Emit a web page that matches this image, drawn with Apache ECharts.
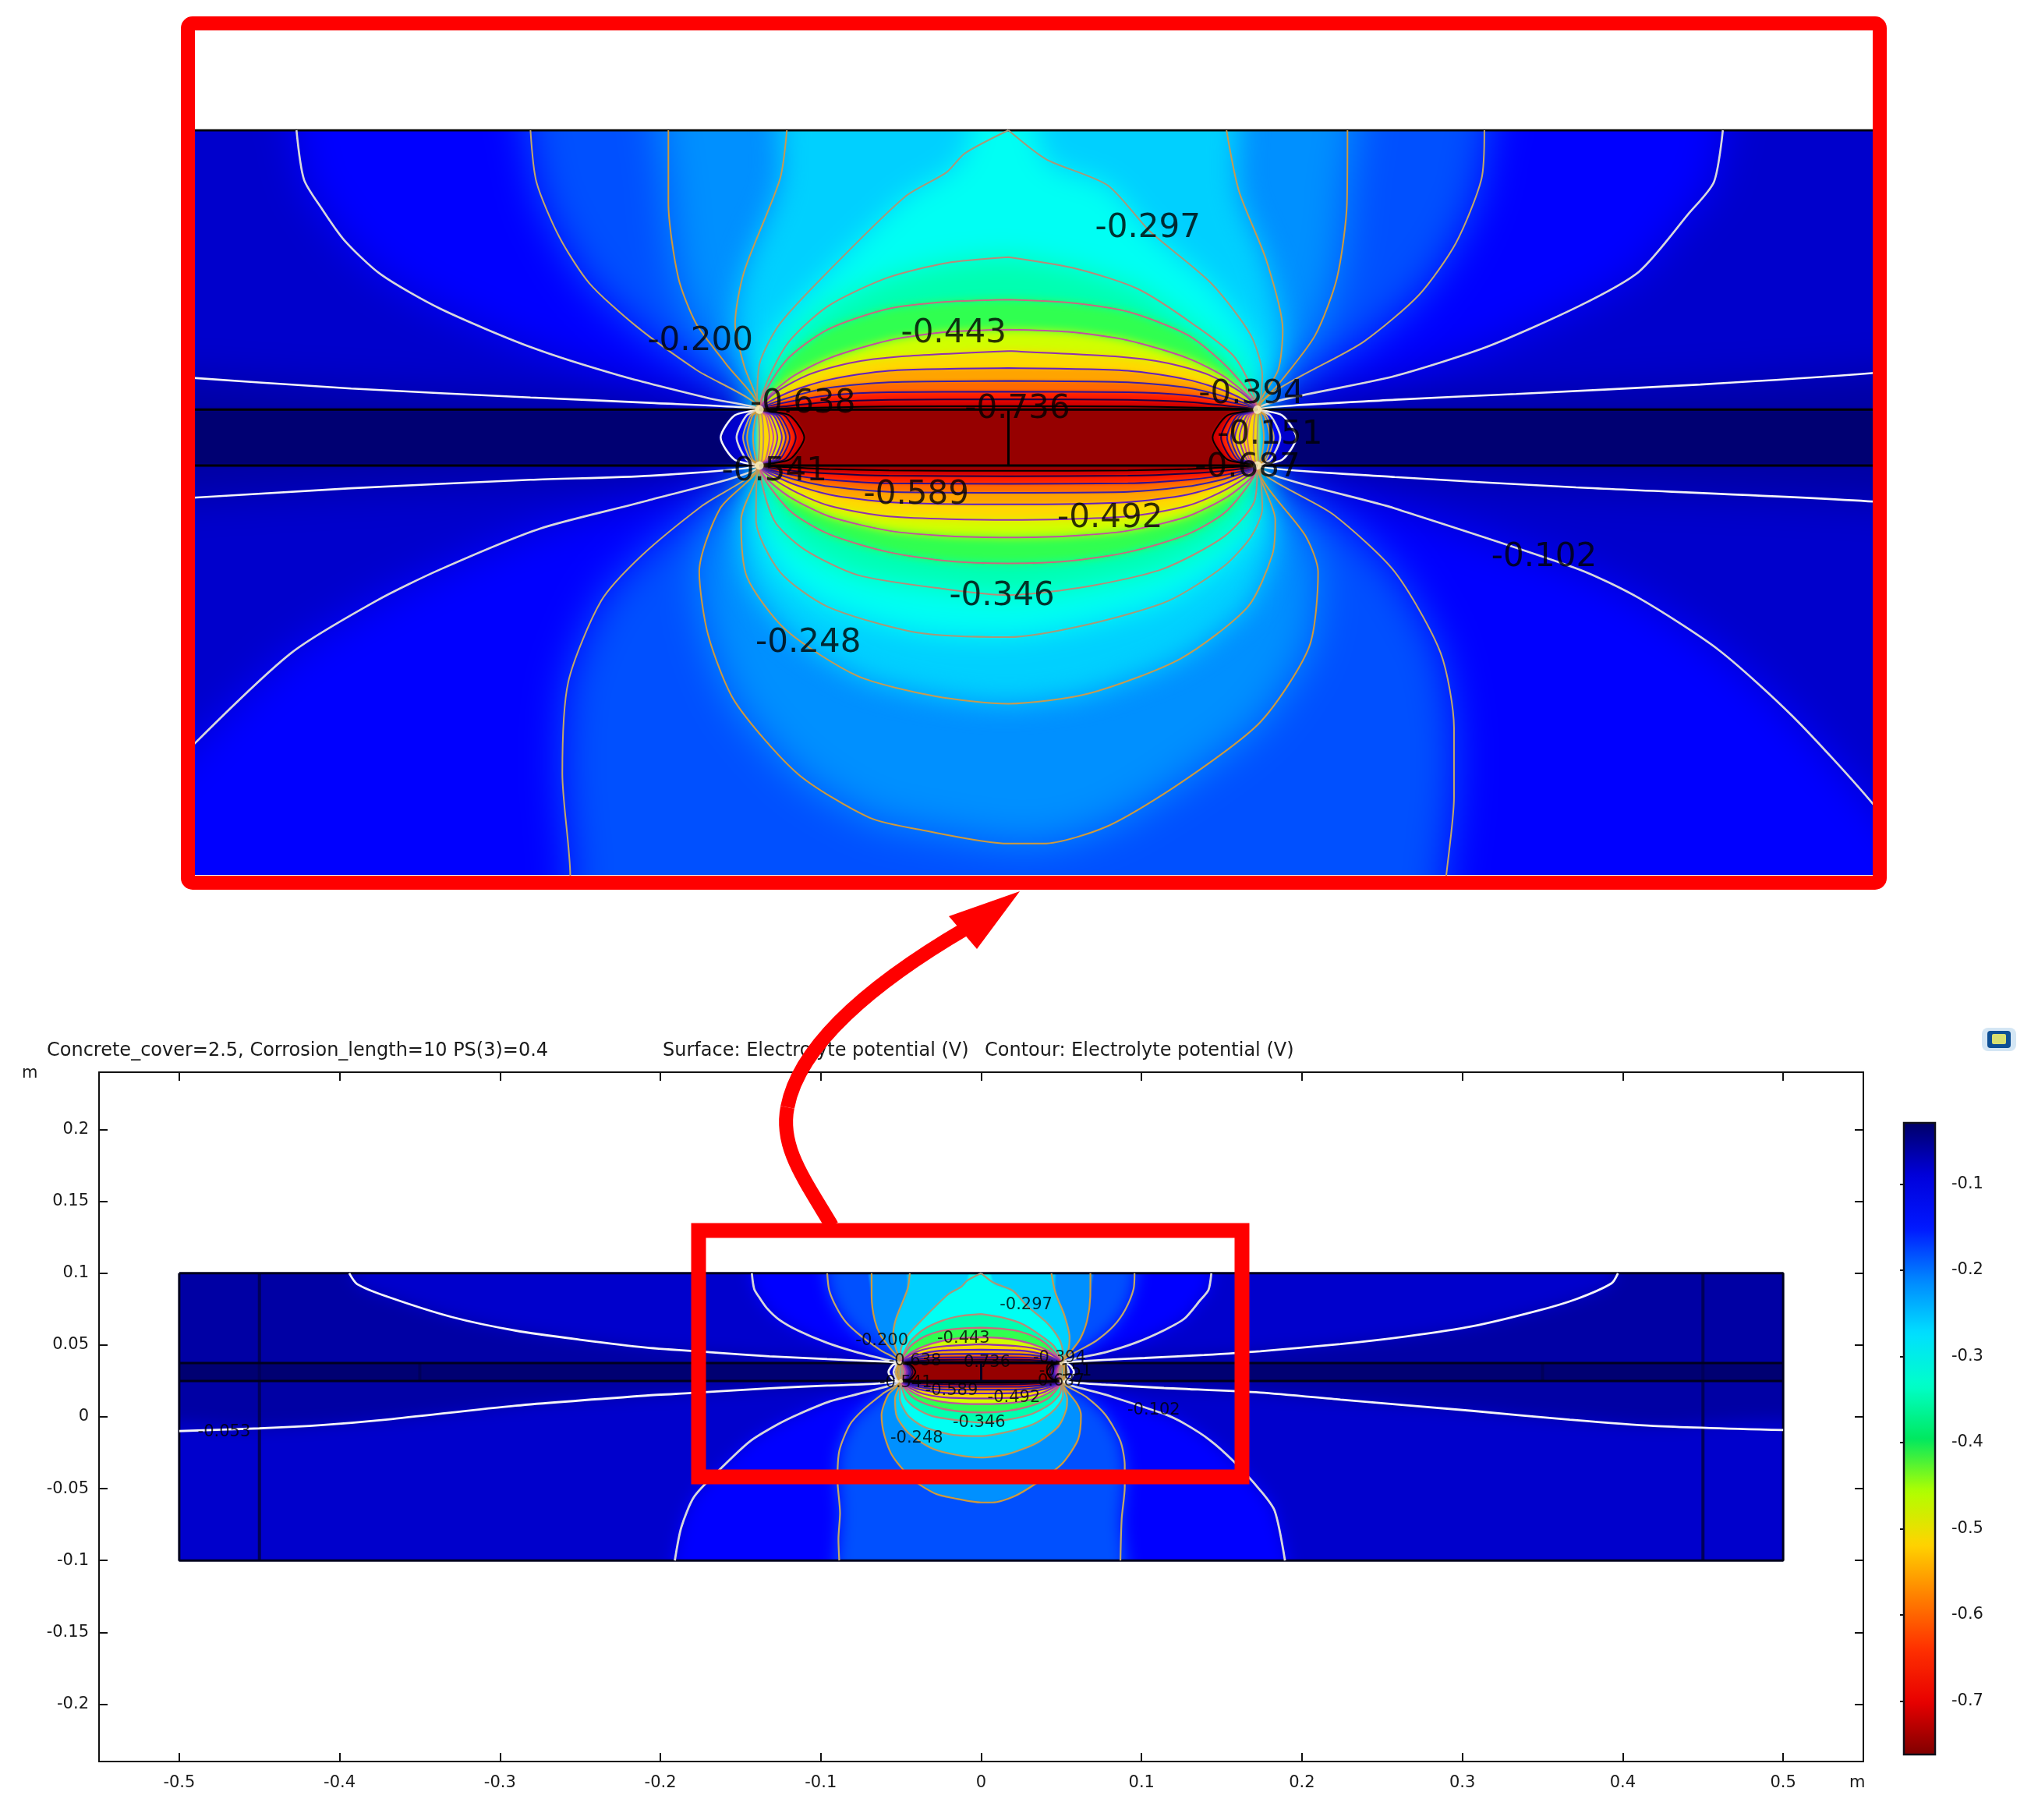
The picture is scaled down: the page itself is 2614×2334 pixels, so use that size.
<!DOCTYPE html>
<html><head><meta charset="utf-8">
<style>
html,body{margin:0;padding:0;background:#fff}
#c{width:2614px;height:2334px}
canvas[data-zr-dom-id="zr_1"]{filter:blur(26px);clip-path:inset(167px 212px 1212px 250px)}
canvas[data-zr-dom-id="zr_2"]{filter:blur(17px);clip-path:inset(167px 212px 1212px 250px)}
canvas[data-zr-dom-id="zr_3"]{filter:blur(6px);clip-path:inset(167px 212px 1212px 250px)}
canvas[data-zr-dom-id="zr_4"]{filter:blur(2px);clip-path:inset(167px 212px 1212px 250px)}
canvas[data-zr-dom-id="zr_5"]{filter:blur(10px);clip-path:inset(1632px 327px 332px 230px)}
canvas[data-zr-dom-id="zr_6"]{filter:blur(1.2px);clip-path:inset(1632px 327px 332px 230px)}
</style>
<script src="https://cdn.jsdelivr.net/npm/echarts@6/dist/echarts.min.js"></script>
</head><body><div id="c"></div>
<script>
// ---- Data (millimetres, electrolyte potential in volts) ----
const contourLevels=[-0.053,-0.102,-0.151,-0.200,-0.248,-0.297,-0.346,-0.394,-0.443,-0.492,-0.541,-0.589,-0.638,-0.687,-0.736];
const bandColors=['#0000cc','#0000ff','#0050ff','#0090ff','#00d0ff','#00fff4','#00ffb0','#30ff50','#d0ff00','#ffd800','#ffa400','#ff6a00','#ff1e00','#d80000','#960000'];
const lineColors=['#f4f4f8','#d8d8dc','#c4a868','#d09a3a','#c89a50','#a89878','#b88a78','#c86a80','#c050a0','#9030b0','#6020c0','#3a20a8','#301090','#200040','#000000'];
const c053=[[-394,100],[-389,92.4],[-370,83.6],[-330,69.5],[-290,60],[-249,53.6],[-209,48.3],[-169,45],[-132,42.2],[-96,40.2],[-72,39],[-50,37.5],[-55,36.2],[-57.8,31.25],[-55,26.3],[-50,25],[-72,22.7],[-96,21.8],[-132,19.9],[-181,16.6],[-209,14.8],[-290,7.8],[-370,-1.8],[-410,-5.6],[-450,-8],[-500,-9.9],[-500,-100],[500,-100],[500,-9.2],[419,-6.3],[367,-2],[306,4.2],[224,12],[174,16.9],[114,20.1],[77.6,22.4],[50,25],[55,26.3],[57.8,31.25],[55,36.2],[50,37.5],[77.6,39.7],[102,41],[139,43.1],[174,45.7],[224,50.7],[265,56],[306,63],[346,73.6],[371,82],[393,93],[397,100]];
const c102=[[-143,100],[-141.5,89],[-138,82.6],[-133.4,75.4],[-126,67.7],[-114,60],[-96,51.5],[-78,45.1],[-60,40],[-50,37.5],[-52.6,36.2],[-54.6,31.25],[-52.6,26.3],[-50,25],[-72,17.3],[-94,10.9],[-114,1.8],[-127,-5.3],[-144,-16.9],[-163,-36.7],[-179,-55.7],[-187,-77],[-191,-100],[189.4,-100],[183,-65.5],[174,-51.2],[157.5,-31.1],[142.7,-16.3],[126.7,-4.7],[114.5,1.8],[77.6,15.4],[50,25],[52.6,26.3],[54.6,31.25],[52.6,36.2],[50,37.5],[77.6,45],[96,51.5],[114.5,60.6],[126.7,68.4],[136.6,81.3],[141.7,88.4],[143.5,100]];
const c151=[[-96,100],[-94.8,88.4],[-90.2,76.1],[-84.2,65.8],[-74.7,56.1],[-62.7,46.4],[-50,37.5],[-51.8,36.2],[-53.3,31.25],[-51.8,26.3],[-50,25],[-61.5,16],[-73.5,5],[-81.8,-5.3],[-88.4,-23.4],[-89.6,-44],[-88,-67],[-89,-85],[-88.5,-100],[86.8,-100],[87.6,-70.8],[89.5,-49.2],[89.5,-33.7],[86.8,-16.9],[77.6,1.2],[65.3,14],[50,25],[51.8,26.3],[53.3,31.25],[51.8,36.2],[50,37.5],[71.5,52.8],[82.5,63.2],[89.9,74.8],[95,89],[95.6,100]];
const c200=[[-68.3,100],[-68.3,83.8],[-66.3,67],[-62.7,56.7],[-56.7,47.7],[-50,37.5],[-51.4,36.2],[-52.5,31.25],[-51.4,26.3],[-50,25],[-57.9,15.4],[-62.1,1.2],[-60.3,-13],[-54.9,-27.9],[-42.3,-44],[-27.9,-53.8],[-17.2,-56.6],[0,-59.6],[7,-59.6],[19.9,-55.7],[34.6,-46],[50.6,-32.4],[60.4,-15.6],[62.2,1.2],[59.8,9],[50,25],[51.4,26.3],[52.5,31.25],[51.4,36.2],[50,37.5],[54.2,43.1],[61.6,54.1],[66,67],[68,83.8],[68.1,100]];
const c248=[[-44.5,100],[-45.9,89],[-53.1,68.3],[-54.9,56.7],[-53,47],[-50,37.5],[-50.7,36.2],[-51.3,31.25],[-50.7,26.3],[-50,25],[-53.7,12.8],[-52.5,0],[-44.7,-11.8],[-30.3,-22.1],[-14.8,-26.6],[0,-28.3],[16.2,-26],[34.6,-18.2],[48.1,-6.6],[53,5],[53.6,12.8],[50,25],[50.7,26.3],[51.3,31.25],[50.7,36.2],[50,37.5],[54.2,46.4],[55.1,55.4],[51.8,70.9],[46.3,86.4],[43.8,100]];
const c297=[[0,100],[-8.8,94.8],[-12.4,90.6],[-20.8,85.1],[-36.3,68.3],[-45.9,56.7],[-50,47.7],[-50.5,37.5],[-50.2,36.2],[-50,31.25],[-50.2,26.3],[-50.5,25],[-50.7,12.8],[-45.9,1.2],[-36.3,-6.6],[-18.3,-12.4],[0,-13.4],[16.2,-10.5],[32.1,-5.3],[43.2,2.4],[48.7,9],[51,15.4],[50.5,25],[50.2,26.3],[50,31.25],[50.2,36.2],[50.5,37.5],[51,45.1],[48.7,54.1],[40.7,65.8],[28.4,77.4],[19.9,87.7],[7.6,93.5]];
const c346=[[0,71.6],[-12.4,70.3],[-24.3,67],[-36.3,60.6],[-44.8,51.6],[-50,37.5],[-49.5,36.2],[-49.2,31.25],[-49.5,26.3],[-50,25],[-47.1,12.8],[-41.1,6.3],[-30.3,.5],[-12.4,-2.7],[0,-4],[16.2,-2],[30.9,1.8],[43.2,9],[49.3,16.7],[50,25],[49.5,26.3],[49.2,31.25],[49.5,36.2],[50,37.5],[45.6,49],[37,56.7],[26,64.5],[13.7,69]];
const c394=[[0,62.1],[-12.4,61.6],[-24.3,60],[-36.3,55.4],[-44.8,48.3],[-50,37.5],[-48.8,36.2],[-48,31.25],[-48.8,26.3],[-50,25],[-44,15],[-36,9.6],[-24,5.6],[-12,3.6],[0,3.1],[12,3.6],[24,5.6],[36,9.6],[44,15],[50,25],[48.8,26.3],[48,31.25],[48.8,36.2],[50,37.5],[44.8,46],[36.3,54],[24.3,59.3],[12.4,61.4]];
const c443=[[0,55.4],[-12,54.9],[-24,53],[-36,49],[-44,44.4],[-50,37.5],[-48.4,36.2],[-47.2,31.25],[-48.4,26.3],[-50,25],[-49,22.5],[-44,18],[-36,13.6],[-24,10.4],[-12,9.2],[0,8.9],[12,9.2],[24,10.4],[36,13.6],[44,18],[49,22.5],[50,25],[48.4,26.3],[47.2,31.25],[48.4,36.2],[50,37.5],[44,44.4],[36,49],[24,53],[12,54.9]];
const c492=[[0,50.6],[-21.4,49.4],[-32,47.9],[-40.2,45.3],[-46.8,41.3],[-50,37.5],[-47.9,36.2],[-46.4,31.25],[-47.9,26.3],[-50,25],[-44,19.8],[-36,16],[-24,13.6],[0,12.8],[24,13.6],[36,16],[44,19.8],[50,25],[47.9,26.3],[46.4,31.25],[47.9,36.2],[50,37.5],[46.8,41.3],[40.2,45.3],[32,47.9],[21.4,49.4]];
const c541=[[0,46.8],[-24,46.2],[-36,44.2],[-44.3,41.3],[-50,37.5],[-47.2,36.2],[-45.5,31.25],[-47.2,26.3],[-50,25],[-44,21.2],[-36,18.5],[-24,16.8],[0,16.3],[24,16.8],[36,18.5],[44,21.2],[50,25],[47.2,26.3],[45.5,31.25],[47.2,36.2],[50,37.5],[44.3,41.3],[36,44.2],[24,46.2]];
const c589=[[0,43.9],[-24,43.6],[-36,42.4],[-44.3,40.1],[-50,37.5],[-46.6,36.2],[-44.7,31.25],[-46.6,26.3],[-50,25],[-44,22.2],[-36,20.3],[-24,19.1],[0,18.9],[24,19.1],[36,20.3],[44,22.2],[50,25],[46.6,26.3],[44.7,31.25],[46.6,36.2],[50,37.5],[44.3,40.1],[36,42.4],[24,43.6]];
const c638=[[0,41.5],[-24,41.4],[-36,40.7],[-44.3,39.2],[-50,37.5],[-46,36.2],[-43.9,31.25],[-46,26.3],[-50,25],[-44,23],[-36,21.8],[-24,21],[0,20.9],[24,21],[36,21.8],[44,23],[50,25],[46,26.3],[43.9,31.25],[46,36.2],[50,37.5],[44.3,39.2],[36,40.7],[24,41.4]];
const c687=[[0,39.8],[-24,39.7],[-36,39.2],[-44.3,38.3],[-50,37.5],[-45,36.2],[-42.7,31.25],[-45,26.3],[-50,25],[-44,23.9],[-36,23.2],[-24,22.7],[0,22.6],[24,22.7],[36,23.2],[44,23.9],[50,25],[45,26.3],[42.7,31.25],[45,36.2],[50,37.5],[44.3,38.3],[36,39.2],[24,39.7]];
const c736=[[0,38.3],[-24,38.2],[-36,38],[-44.3,37.8],[-50,37.5],[-44,36.2],[-41,31.25],[-44,26.3],[-50,25],[-44,24.6],[-36,24.2],[-24,23.9],[0,23.8],[24,23.9],[36,24.2],[44,24.6],[50,25],[44,26.3],[41,31.25],[44,36.2],[50,37.5],[44.3,37.8],[36,38],[24,38.2]];
const domainRing=[[-500,100],[500,100],[500,-100],[-500,-100]];
const barLeft=[[-500,37.5],[-50,37.5],[-50,25],[-500,25]];
const barRight=[[50,37.5],[500,37.5],[500,25],[50,25]];
const singularPoints=[[-50,37.5],[50,37.5],[-50,25],[50,25]];
const labelTexts=['-0.297','-0.443','-0.200','-0.638','-0.736','-0.394','-0.151','-0.541','-0.589','-0.687','-0.492','-0.346','-0.248','-0.102'];
const labelX=[28,-11,-61.9,-41.3,1.8,48.8,52.5,-47,-18.5,48,20.4,-1.3,-40.2,107.6];
const labelY=[78.5,54.9,53.2,39.2,38.1,41.3,32.3,24.1,18.9,25,13.7,-3.8,-14.2,4.9];
const farLabel={text:'-0.053',x:-472,y:-10};
const xTicks=[-500,-400,-300,-200,-100,0,100,200,300,400,500];
const yTicks=[-200,-150,-100,-50,0,50,100,150,200];
const barTicks=[-0.7,-0.6,-0.5,-0.4,-0.3,-0.2,-0.1];
const rainbow=['#800000','#e80000','#ff3000','#ff8000','#ffd400','#b0ff00','#00e860','#00ffc8','#00e0ff','#0088ff','#0018ff','#0000dc','#000068'];
const barMin=-0.762,barMax=-0.029;

const rings=[c053,c102,c151,c200,c248,c297,c346,c394,c443,c492,c541,c589,c638,c687,c736];
function ext(p){ // push boundary points outward so the blurred fill stays solid up to the edge
  let [x,y]=p;
  if(y===100)y=130; if(y===-100)y=-130; if(x===500)x=530; if(x===-500)x=-530;
  return [x,y];
}
const domainFill={r:domainRing,c:'#0000a4',s:0};
const barFills=[{r:barLeft,c:'#000072',s:0},{r:barRight,c:'#000072',s:0}];
const ringFills=rings.map((r,i)=>({r,c:bandColors[i],s:0.25}));
const lobeFills=rings.slice(0,10).flatMap((r,i)=>{
  const mid=r.filter(p=>p[1]<=37.5&&p[1]>=25);
  return [{r:mid.filter(p=>p[0]<0),c:bandColors[i],s:0.25},{r:mid.filter(p=>p[0]>0),c:bandColors[i],s:0.25}];
});
function fillSeries(list,xi,yi,zl){
  return {type:'custom',coordinateSystem:'cartesian2d',xAxisIndex:xi,yAxisIndex:yi,zlevel:zl,silent:true,animation:false,
    data:list.map((_,i)=>[0,i]),
    renderItem:(p,api)=>{const f=list[p.dataIndex];return {type:'polygon',shape:{points:f.r.map(q=>api.coord(ext(q))),smooth:f.s},style:{fill:f.c}};}};
}
function onEdge(a,b){return (Math.abs(a[1])===100&&a[1]===b[1])||(Math.abs(a[0])===500&&a[0]===b[0]);}
function strokeData(r){
  const out=[];const n=r.length;
  for(let i=0;i<=n;i++){
    const p=r[i%n];
    if(i>0&&onEdge(r[i-1],p))out.push('-');
    out.push(p);
  }
  return out;
}
const TOP=7;
function lineSeries(xi,yi,w){
  return rings.map((r,i)=>({type:'line',xAxisIndex:xi,yAxisIndex:yi,zlevel:TOP,z:3,silent:true,animation:false,showSymbol:false,connectNulls:false,clip:true,smooth:0.25,
    data:strokeData(r),lineStyle:{color:lineColors[i],width:i<2?w+0.6:w}}));
}
function struct(xi,yi,data,color,w,z){
  return {type:'line',xAxisIndex:xi,yAxisIndex:yi,zlevel:TOP,z:z||2,silent:true,animation:false,showSymbol:false,connectNulls:false,clip:true,data,lineStyle:{color,width:w}};
}
function labelSeries(xi,yi,size,off,extra){
  const d=labelTexts.map((t,i)=>({name:t,value:[labelX[i],labelY[i]]})).concat(extra||[]);
  return {type:'scatter',xAxisIndex:xi,yAxisIndex:yi,zlevel:TOP,z:6,silent:true,animation:false,symbolSize:1,itemStyle:{color:'rgba(0,0,0,0)'},data:d,
    label:{show:true,position:'inside',offset:[0,off],formatter:'{b}',fontFamily:'DejaVu Sans',fontSize:size,color:'#000'}};
}
function spots(xi,yi,size){
  return {type:'scatter',xAxisIndex:xi,yAxisIndex:yi,zlevel:TOP,z:5,silent:true,animation:false,symbolSize:size,data:singularPoints,
    itemStyle:{color:'#fff6c0',shadowBlur:size,shadowColor:'#ffa000'}};
}
const insetStruct=[[-500,100],[500,100],'-',[-500,37.5],[500,37.5],'-',[-500,25],[500,25],'-',[0,25],[0,37.5]];
const mainStruct=[[-500,100],[500,100],[500,-100],[-500,-100],[-500,100],'-',[-500,37.5],[500,37.5],'-',[-500,25],[500,25],'-',[0,25],[0,37.5]];
const mainShade=[[-450,100],[-450,-100],'-',[450,100],[450,-100],'-',[-350,25],[-350,37.5],'-',[350,25],[350,37.5]];

const axisTxt={fontFamily:'DejaVu Sans',fontSize:21,color:'#1a1a1a'};
const tick=(vals)=>({show:true,inside:true,length:11,customValues:vals,lineStyle:{color:'#111',width:2}});
const line={show:true,onZero:false,lineStyle:{color:'#111',width:2}};
const hidden=(min,max,pos)=>({type:'value',min,max,show:false,position:pos});
const titleStyle={fontFamily:'DejaVu Sans',fontWeight:'normal',fontSize:24,color:'#1a1a1a'};
const option={
  animation:false,backgroundColor:'#fff',
  title:[
    {text:'Concrete_cover=2.5, Corrosion_length=10 PS(3)=0.4',left:60,top:1336,textStyle:titleStyle,padding:0},
    {text:'Surface: Electrolyte potential (V)',left:850,top:1336,textStyle:titleStyle,padding:0},
    {text:'Contour: Electrolyte potential (V)',left:1263,top:1336,textStyle:titleStyle,padding:0}
  ],
  grid:[
    {left:250,top:167,width:2152,height:955},
    {left:127,top:1375,width:2263,height:884},
    {left:2442,top:1440,width:40,height:810}
  ],
  xAxis:[
    hidden(-163.4,173.6,'bottom'),
    {gridIndex:1,type:'value',min:-550,max:550,position:'bottom',axisLine:line,axisTick:tick(xTicks),splitLine:{show:false},
      axisLabel:{...axisTxt,margin:17,customValues:xTicks,formatter:v=>String(v/1000)}},
    {gridIndex:1,type:'value',min:-550,max:550,position:'top',axisLine:line,axisTick:tick(xTicks),splitLine:{show:false},axisLabel:{show:false}},
    {gridIndex:2,type:'value',min:0,max:1,show:false}
  ],
  yAxis:[
    hidden(-66.6,100,'left'),
    {gridIndex:1,type:'value',min:-240,max:240,position:'left',axisLine:line,axisTick:tick(yTicks),splitLine:{show:false},
      axisLabel:{...axisTxt,margin:13,padding:[5,0,0,0],customValues:yTicks,formatter:v=>String(v/1000)}},
    {gridIndex:1,type:'value',min:-240,max:240,position:'right',axisLine:line,axisTick:tick(yTicks),splitLine:{show:false},axisLabel:{show:false}},
    {gridIndex:2,type:'value',min:barMin,max:barMax,position:'right',axisLine:{show:false},splitLine:{show:false},
      axisTick:{show:true,inside:true,length:5,customValues:barTicks,lineStyle:{color:'#111',width:2}},
      axisLabel:{...axisTxt,margin:21,padding:[5,0,0,0],customValues:barTicks,formatter:v=>v.toFixed(1)}}
  ],
  visualMap:[{type:'continuous',show:true,seriesIndex:[],min:barMin,max:barMax,calculable:false,left:2442,top:1440,itemWidth:40,itemHeight:810,padding:0,text:null,showLabel:false,inRange:{color:rainbow},textStyle:{fontSize:0}}],
  graphic:{elements:[
    {type:'rect',zlevel:TOP,z:20,shape:{x:241,y:30,width:2170,height:1102,r:6},style:{fill:'none',stroke:'#ff0000',lineWidth:18}},
    {type:'rect',zlevel:TOP,z:20,shape:{x:896,y:1578,width:697,height:316},style:{fill:'none',stroke:'#ff0000',lineWidth:19}},
    {type:'bezierCurve',zlevel:TOP,z:20,shape:{x1:1067,y1:1572,cpx1:1030,cpy1:1510,cpx2:1000,cpy2:1470,x2:1010,y2:1420},style:{fill:'none',stroke:'#ff0000',lineWidth:18}},
    {type:'bezierCurve',zlevel:TOP,z:20,shape:{x1:1010,y1:1420,cpx1:1025,cpy1:1340,cpx2:1120,cpy2:1260,x2:1240,y2:1190},style:{fill:'none',stroke:'#ff0000',lineWidth:18}},
    {type:'polygon',zlevel:TOP,z:20,shape:{points:[[1308,1143],[1217,1175],[1253,1217]]},style:{fill:'#ff0000'}},
    {type:'rect',zlevel:TOP,z:19,shape:{x:2442,y:1440,width:40,height:810},style:{fill:'none',stroke:'#10101a',lineWidth:2.5}},
    {type:'text',left:28,top:1366,style:{text:'m',font:'21px "DejaVu Sans"',fill:'#1a1a1a'}},
    {type:'text',left:2372,top:2276,style:{text:'m',font:'21px "DejaVu Sans"',fill:'#1a1a1a'}},
    {type:'rect',shape:{x:2542,y:1318,width:44,height:30,r:8},style:{fill:'#d4e6f4'}},
    {type:'rect',shape:{x:2549,y:1322,width:30,height:22,r:4},style:{fill:'#0d4f95'}},
    {type:'rect',shape:{x:2555,y:1326,width:18,height:13,r:2},style:{fill:'#d8e070'}}
  ]},
  series:[
    fillSeries([domainFill,...ringFills.slice(0,4)],0,0,1),
    fillSeries(ringFills.slice(4,7),0,0,2),
    fillSeries(ringFills.slice(7,10),0,0,3),
    fillSeries([...barFills,...lobeFills,...ringFills.slice(10)],0,0,4),
    fillSeries([domainFill,...ringFills.slice(0,3)],1,1,5),
    fillSeries([...barFills,...lobeFills,...ringFills.slice(3)],1,1,6),
    ...lineSeries(0,0,2),
    ...lineSeries(1,1,2.2),
    spots(0,0,11),
    spots(1,1,5),
    struct(0,0,insetStruct,'#000',3),
    struct(1,1,mainShade,'#00005a',4),
    struct(1,1,mainStruct,'#00001e',3),
    labelSeries(0,0,42,3),
    labelSeries(1,1,21,1,[{name:farLabel.text,value:[farLabel.x,farLabel.y]}])
  ]
};
const chart=echarts.init(document.getElementById('c'),null,{width:2614,height:2334,renderer:'canvas'});
chart.setOption(option);
</script></body></html>
